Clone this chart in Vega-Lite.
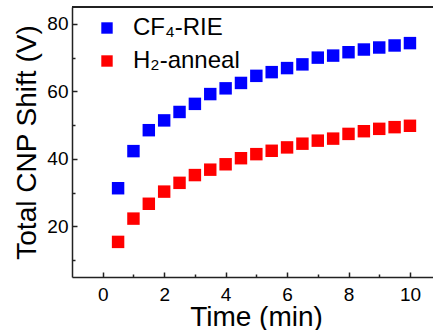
{
  "$schema": "https://vega.github.io/schema/vega-lite/v6.json",
  "width": 361,
  "height": 270,
  "autosize": {"type": "none"},
  "padding": {"left": 72, "top": 7, "right": 0, "bottom": 53},
  "background": "white",
  "config": {
    "view": {"stroke": null},
    "font": "Liberation Sans",
    "axis": {
      "domainColor": "#222222",
      "domainWidth": 1.5,
      "tickColor": "#222222",
      "tickWidth": 1.5,
      "grid": false,
      "labelFont": "Liberation Sans",
      "labelFontSize": 19,
      "labelColor": "black",
      "titleFont": "Liberation Sans",
      "titleFontSize": 28,
      "titleFontWeight": "normal",
      "titleColor": "black"
    }
  },
  "data": {
    "values": [
      {"time": 0.5, "shift": 31.3, "series": "CF₄-RIE"},
      {"time": 1.0, "shift": 42.3, "series": "CF₄-RIE"},
      {"time": 1.5, "shift": 48.5, "series": "CF₄-RIE"},
      {"time": 2.0, "shift": 51.4, "series": "CF₄-RIE"},
      {"time": 2.5, "shift": 53.9, "series": "CF₄-RIE"},
      {"time": 3.0, "shift": 56.3, "series": "CF₄-RIE"},
      {"time": 3.5, "shift": 59.2, "series": "CF₄-RIE"},
      {"time": 4.0, "shift": 60.9, "series": "CF₄-RIE"},
      {"time": 4.5, "shift": 62.5, "series": "CF₄-RIE"},
      {"time": 5.0, "shift": 64.6, "series": "CF₄-RIE"},
      {"time": 5.5, "shift": 65.7, "series": "CF₄-RIE"},
      {"time": 6.0, "shift": 66.9, "series": "CF₄-RIE"},
      {"time": 6.5, "shift": 68.0, "series": "CF₄-RIE"},
      {"time": 7.0, "shift": 70.0, "series": "CF₄-RIE"},
      {"time": 7.5, "shift": 70.6, "series": "CF₄-RIE"},
      {"time": 8.0, "shift": 71.6, "series": "CF₄-RIE"},
      {"time": 8.5, "shift": 72.4, "series": "CF₄-RIE"},
      {"time": 9.0, "shift": 73.0, "series": "CF₄-RIE"},
      {"time": 9.5, "shift": 73.6, "series": "CF₄-RIE"},
      {"time": 10.0, "shift": 74.3, "series": "CF₄-RIE"},
      {"time": 0.5, "shift": 15.4, "series": "H₂-anneal"},
      {"time": 1.0, "shift": 22.3, "series": "H₂-anneal"},
      {"time": 1.5, "shift": 26.7, "series": "H₂-anneal"},
      {"time": 2.0, "shift": 30.3, "series": "H₂-anneal"},
      {"time": 2.5, "shift": 32.9, "series": "H₂-anneal"},
      {"time": 3.0, "shift": 35.2, "series": "H₂-anneal"},
      {"time": 3.5, "shift": 36.8, "series": "H₂-anneal"},
      {"time": 4.0, "shift": 38.4, "series": "H₂-anneal"},
      {"time": 4.5, "shift": 40.2, "series": "H₂-anneal"},
      {"time": 5.0, "shift": 41.4, "series": "H₂-anneal"},
      {"time": 5.5, "shift": 42.4, "series": "H₂-anneal"},
      {"time": 6.0, "shift": 43.4, "series": "H₂-anneal"},
      {"time": 6.5, "shift": 44.5, "series": "H₂-anneal"},
      {"time": 7.0, "shift": 45.4, "series": "H₂-anneal"},
      {"time": 7.5, "shift": 46.0, "series": "H₂-anneal"},
      {"time": 8.0, "shift": 47.4, "series": "H₂-anneal"},
      {"time": 8.5, "shift": 48.2, "series": "H₂-anneal"},
      {"time": 9.0, "shift": 48.9, "series": "H₂-anneal"},
      {"time": 9.5, "shift": 49.4, "series": "H₂-anneal"},
      {"time": 10.0, "shift": 49.8, "series": "H₂-anneal"}
    ]
  },
  "layer": [
    {
      "mark": {"type": "point", "shape": "square", "filled": true, "opacity": 1, "size": 155, "strokeWidth": 0},
      "encoding": {
        "x": {
          "field": "time",
          "type": "quantitative",
          "title": "Time (min)",
          "scale": {"domain": [-1, 10.75], "nice": false, "zero": false},
          "axis": {
            "values": [0, 1, 2, 3, 4, 5, 6, 7, 8, 9, 10],
            "tickCount": 30,
            "format": "d",
            "labelExpr": "datum.value % 2 === 0 ? datum.label : ''",
            "tickSize": {"condition": {"test": "datum.value % 2 === 0", "value": -5}, "value": -3},
            "labelPadding": 13,
            "titlePadding": -1,
            "titleX": 184
          }
        },
        "y": {
          "field": "shift",
          "type": "quantitative",
          "title": "Total CNP Shift (V)",
          "scale": {"domain": [5, 85], "nice": false, "zero": false},
          "axis": {
            "values": [10, 20, 30, 40, 50, 60, 70, 80],
            "tickCount": 30,
            "format": "d",
            "labelExpr": "datum.value % 20 === 0 ? datum.label : ''",
            "tickSize": {"condition": {"test": "datum.value % 20 === 0", "value": -5}, "value": -3},
            "labelOverlap": false,
            "labelPadding": 9,
            "titlePadding": 5
          }
        },
        "color": {
          "field": "series",
          "type": "nominal",
          "scale": {"domain": ["CF₄-RIE", "H₂-anneal"], "range": ["#0000ff", "#ff0000"]},
          "legend": {
            "orient": "none",
            "legendX": 23,
            "legendY": 9,
            "title": null,
            "symbolType": "square",
            "symbolSize": 130,
            "symbolStrokeWidth": 0,
            "symbolOpacity": 1,
            "labelFont": "Liberation Sans",
            "labelFontSize": 24,
            "labelColor": "black",
            "labelOffset": 14,
            "rowPadding": 9
          }
        }
      }
    },
    {
      "mark": {"type": "rule", "color": "#222222", "strokeWidth": 1.5},
      "encoding": {"y": {"datum": 85}}
    }
  ]
}
